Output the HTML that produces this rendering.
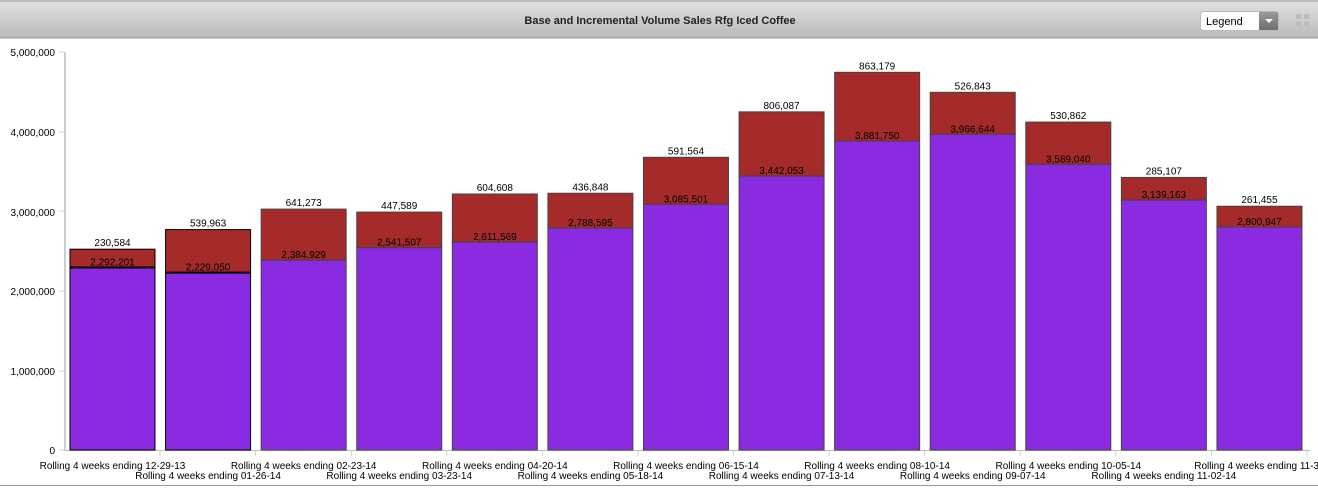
<!DOCTYPE html>
<html><head><style>
body{margin:0;background:#fff;width:1318px;height:487px;overflow:hidden;font-family:"Liberation Sans",Arial,sans-serif}
</style></head><body>
<svg width="1318" height="487" xmlns="http://www.w3.org/2000/svg" font-family="Liberation Sans, Arial, sans-serif">
<defs><linearGradient id="hg" x1="0" y1="0" x2="0" y2="1"><stop offset="0" stop-color="#e2e2e2"/><stop offset="1" stop-color="#b9b9b9"/></linearGradient>
<linearGradient id="dg" x1="0" y1="0" x2="0" y2="1"><stop offset="0" stop-color="#9a9a9a"/><stop offset="1" stop-color="#6e6e6e"/></linearGradient></defs>
<rect x="0" y="0" width="1318" height="38" fill="url(#hg)"/>
<line x1="0" y1="1" x2="1318" y2="1" stroke="#999"/>
<line x1="0" y1="38" x2="1318" y2="38" stroke="#999"/>
<text x="660" y="24" text-anchor="middle" font-size="11" font-weight="bold" fill="#222">Base and Incremental Volume Sales Rfg Iced Coffee</text>
<rect x="1200.5" y="11.5" width="78" height="19" rx="3" fill="#fff" stroke="#bbb"/>
<rect x="1259" y="12" width="19" height="18" fill="url(#dg)"/>
<path d="M1265 19 L1273 19 L1269 23 Z" fill="#fff"/>
<text x="1206" y="25" font-size="11" fill="#000">Legend</text>
<g fill="#bbb"><rect x="1296" y="14" width="5" height="5"/><rect x="1304" y="14" width="5" height="5"/><rect x="1296" y="22" width="5" height="5"/><rect x="1304" y="22" width="5" height="5"/></g>
<line x1="0" y1="485.5" x2="1318" y2="485.5" stroke="#999"/>
<g font-size="10" fill="#000" text-anchor="end">
<text x="55" y="56">5,000,000</text><text x="55" y="136">4,000,000</text><text x="55" y="216">3,000,000</text><text x="55" y="295">2,000,000</text><text x="55" y="375">1,000,000</text><text x="55" y="454">0</text>
</g>
<g stroke="#c8d4e4"><line x1="59" y1="52" x2="64" y2="52"/><line x1="59" y1="132" x2="64" y2="132"/><line x1="59" y1="211" x2="64" y2="211"/><line x1="59" y1="291" x2="64" y2="291"/><line x1="59" y1="371" x2="64" y2="371"/><line x1="59" y1="450" x2="64" y2="450"/></g>
<line x1="65" y1="52" x2="65" y2="451" stroke="#999"/>
<line x1="65" y1="450.5" x2="1310" y2="450.5" stroke="#bbb"/>
<g id="bars"></g>
</svg>
<script>
var d=[[2292201,230584,"12-29-13"],[2229050,539963,"01-26-14"],[2384929,641273,"02-23-14"],[2541507,447589,"03-23-14"],[2611569,604608,"04-20-14"],[2788595,436848,"05-18-14"],[3085501,591564,"06-15-14"],[3442053,806087,"07-13-14"],[3881750,863179,"08-10-14"],[3966644,526843,"09-07-14"],[3589040,530862,"10-05-14"],[3139163,285107,"11-02-14"],[2800947,261455,"11-30-14"]];
var g=document.getElementById("bars"),h="",s=79.6/1e6;
function f(n){return n.toLocaleString("en-US")}
d.forEach(function(r,i){var x=70+i*95.58,w=85,cx=x+w/2;var yb=450-r[0]*s,yt=450-(r[0]+r[1])*s;
var sw=i<2?"#000":"#444";
h+='<rect x="'+x+'" y="'+yt+'" width="'+w+'" height="'+(yb-yt)+'" fill="#a52a2a" stroke="'+sw+'"/>';
h+='<rect x="'+x+'" y="'+yb+'" width="'+w+'" height="'+(450-yb)+'" fill="#8a2be2" stroke="'+sw+'"/>';
if(i<2)h+='<line x1="'+x+'" y1="'+yb+'" x2="'+(x+w)+'" y2="'+yb+'" stroke="#000" stroke-width="2"/>';
h+='<text x="'+cx+'" y="'+(yt-3)+'" font-size="10" text-anchor="middle">'+f(r[1])+'</text>';
h+='<text x="'+cx+'" y="'+(yb-2)+'" font-size="10" text-anchor="middle">'+f(r[0])+'</text>';
h+='<line x1="'+(x+w+5)+'" y1="451" x2="'+(x+w+5)+'" y2="456" stroke="#c8d4e4"/>';
h+='<text x="'+cx+'" y="'+(i%2?479:469)+'" font-size="10" text-anchor="middle">Rolling 4 weeks ending '+(i==12?'11-30':r[2])+'</text>';});
g.innerHTML=h;
</script>
</body></html>
